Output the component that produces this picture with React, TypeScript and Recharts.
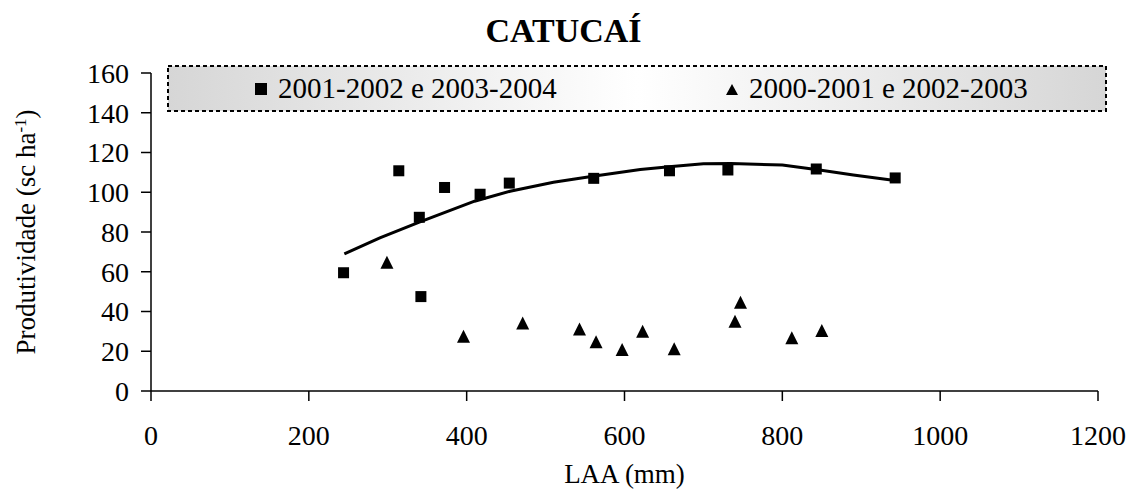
import { ScatterChart, Scatter, XAxis, YAxis, Legend } from "recharts";

const serif = '"Liberation Serif", "Times New Roman", serif';
const serifStyle = { fontFamily: serif };

const xTicks = [0, 200, 400, 600, 800, 1000, 1200];
const yTicks = [0, 20, 40, 60, 80, 100, 120, 140, 160];

// 2001-2002 e 2003-2004 (squares)
const squareName = "2001-2002 e 2003-2004";
const squareLaa = [244, 314, 340, 342, 372, 417, 454, 561, 657, 731, 843, 943];
const squareProd = [59.5, 110.8, 87.4, 47.5, 102.4, 99, 104.6, 107, 110.8, 111.2, 111.7, 107.2];

// 2000-2001 e 2002-2003 (triangles)
const triangleName = "2000-2001 e 2002-2003";
const triangleLaa = [299, 396, 471, 543, 564, 597, 623, 663, 740, 747, 812, 850];
const triangleProd = [64.5, 27.3, 34, 31, 24.5, 20.6, 29.8, 21, 34.9, 44.4, 26.5, 30.2];

// trend curve
const trendLaa = [245, 290, 340, 410, 455, 510, 560, 620, 660, 700, 735, 800, 845, 890, 945];
const trendProd = [69, 77, 85, 95.5, 100.5, 105, 108, 111.5, 113, 114.3, 114.5, 113.7, 111.3, 108.7, 105.8];

const legendOrder = [squareName, triangleName];

const squares = squareLaa.map((x, i) => ({ x, y: squareProd[i] }));
const triangles = triangleLaa.map((x, i) => ({ x, y: triangleProd[i] }));
const trend = trendLaa.map((x, i) => ({ x, y: trendProd[i] }));

const SquareDot = (props: any) => {
  const { cx, cy } = props;
  return <rect x={cx - 5.5} y={cy - 5.5} width={11} height={11} fill="#000" />;
};

const TriangleDot = (props: any) => {
  const { cx, cy } = props;
  return (
    <polygon
      points={`${cx},${cy - 7} ${cx + 6.5},${cy + 6} ${cx - 6.5},${cy + 6}`}
      fill="#000"
    />
  );
};

const LegendBox = ({ payload }: any) => {
  const items = (payload || [])
    .filter((p: any) => p.type !== "none" && legendOrder.includes(p.value))
    .sort((a: any, b: any) => legendOrder.indexOf(a.value) - legendOrder.indexOf(b.value));
  const lefts = [88, 559];
  return (
    <svg width={940} height={47} style={{ display: "block" }}>
      <defs>
        <linearGradient id="legendFill" x1="0" x2="1" y1="0" y2="0">
          <stop offset="0" stopColor="#d6d6d6" />
          <stop offset="0.5" stopColor="#ffffff" />
          <stop offset="1" stopColor="#d6d6d6" />
        </linearGradient>
      </defs>
      <rect
        x={1}
        y={1}
        width={938}
        height={45}
        fill="url(#legendFill)"
        stroke="#000"
        strokeWidth={2}
        strokeDasharray="4 3"
      />
      {items.map((it: any, i: number) => {
        const left = lefts[i] ?? 88;
        return (
          <g key={it.value}>
            {it.type === "triangle" ? (
              <polygon
                points={`${left + 6},${19} ${left + 12},${30} ${left},${30}`}
                fill="#000"
              />
            ) : (
              <rect x={left} y={18} width={12} height={12} fill="#000" />
            )}
            <text x={left + 23} y={33} fontSize={29} style={serifStyle} fill="#000">
              {it.value}
            </text>
          </g>
        );
      })}
    </svg>
  );
};

export default function App() {
  return (
    <div style={{ position: "relative", width: 1127, height: 490, background: "#fff" }}>
      <style>{`body{margin:0}`}</style>
      <div
        style={{
          position: "absolute",
          top: 13.5,
          left: 0,
          width: 1127,
          textAlign: "center",
          fontFamily: serif,
          fontWeight: "bold",
          fontSize: 34,
          lineHeight: "34px",
          color: "#000",
        }}
      >
        CATUCAÍ
      </div>
      <ScatterChart
        width={1127}
        height={490}
        margin={{ top: 73, right: 29, bottom: 0, left: 0 }}
        style={serifStyle}
      >
        <XAxis
          type="number"
          dataKey="x"
          domain={[0, 1200]}
          ticks={xTicks}
          interval={0}
          height={99}
          tickSize={10}
          tickMargin={24}
          axisLine={{ stroke: "#000", strokeWidth: 1.5 }}
          tickLine={{ stroke: "#000", strokeWidth: 1.5 }}
          tick={{ fontSize: 28, fill: "#000", fontFamily: serif }}
          label={{
            content: (p: any) => {
              const vb = p.viewBox || { x: 151, y: 391, width: 947 };
              return (
                <text
                  x={vb.x + vb.width / 2}
                  y={vb.y + 92}
                  textAnchor="middle"
                  fontSize={27}
                  style={serifStyle}
                  fill="#000"
                >
                  LAA (mm)
                </text>
              );
            },
          }}
        />
        <YAxis
          type="number"
          dataKey="y"
          domain={[0, 160]}
          ticks={yTicks}
          interval={0}
          width={151}
          tickSize={10}
          tickMargin={12}
          axisLine={{ stroke: "#000", strokeWidth: 1.5 }}
          tickLine={{ stroke: "#000", strokeWidth: 1.5 }}
          tick={{ fontSize: 28, fill: "#000", fontFamily: serif }}
          label={{
            content: (p: any) => {
              const vb = p.viewBox || { x: 0, y: 73, height: 318 };
              const cx = vb.x + 35;
              const cy = vb.y + vb.height / 2;
              return (
                <text
                  x={cx}
                  y={cy}
                  transform={`rotate(-90, ${cx}, ${cy})`}
                  textAnchor="middle"
                  fontSize={27}
                  style={serifStyle}
                  fill="#000"
                >
                  Produtividade (sc ha
                  <tspan baselineShift="super" fontSize={17}>
                    -1
                  </tspan>
                  )
                </text>
              );
            },
          }}
        />
        <Legend
          layout="horizontal"
          verticalAlign="middle"
          align="center"
          width={940}
          height={47}
          wrapperStyle={{ top: 65, left: 167, width: 940, height: 47 }}
          content={<LegendBox />}
        />
        <Scatter
          name="trend"
          data={trend}
          line={{ stroke: "#000", strokeWidth: 3 }}
          shape={() => <g />}
          legendType="none"
          isAnimationActive={false}
        />
        <Scatter
          name={squareName}
          data={squares}
          fill="#000"
          shape={SquareDot}
          legendType="square"
          isAnimationActive={false}
        />
        <Scatter
          name={triangleName}
          data={triangles}
          fill="#000"
          shape={TriangleDot}
          legendType="triangle"
          isAnimationActive={false}
        />
      </ScatterChart>
    </div>
  );
}
